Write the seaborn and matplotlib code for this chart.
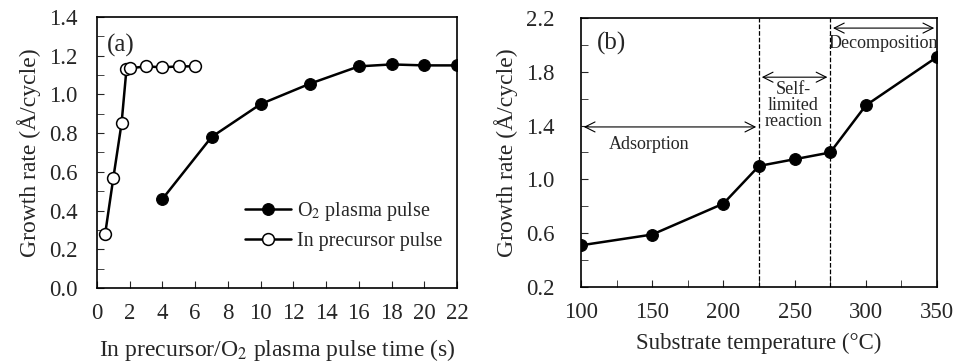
import numpy as np
import pandas as pd
import seaborn as sns
from matplotlib import pyplot as plt
from matplotlib.ticker import MultipleLocator, FixedLocator

sns.set_style('ticks')
plt.rcParams['font.family'] = ['Liberation Serif', 'DejaVu Serif']
plt.rcParams['mathtext.fontset'] = 'stix'

# panel (a)
precursor_time = [0.5, 1, 1.5, 1.8, 2, 3, 4, 5, 6]
precursor_rate = [0.28, 0.57, 0.85, 1.13, 1.135, 1.145, 1.14, 1.145, 1.145]
plasma_time = [4, 7, 10, 13, 16, 18, 20, 22]
plasma_rate = [0.46, 0.78, 0.95, 1.055, 1.145, 1.155, 1.15, 1.15]

# panel (b)
temperature = [100, 150, 200, 225, 250, 275, 300, 350]
temp_rate = [0.51, 0.59, 0.82, 1.10, 1.15, 1.20, 1.55, 1.91]
region_edges = [100, 225, 275, 350]

df_a1 = pd.DataFrame({'t': plasma_time, 'rate': plasma_rate})
df_a2 = pd.DataFrame({'t': precursor_time, 'rate': precursor_rate})
df_b = pd.DataFrame({'T': temperature, 'rate': temp_rate})

fig = plt.figure(figsize=(9.63, 3.61), dpi=100)
ax1 = fig.add_axes([97/963, 1 - 288/361, 360/963, 271/361])
ax2 = fig.add_axes([581/963, 1 - 287/361, 356/963, 269/361])

sns.lineplot(data=df_a1, x='t', y='rate', ax=ax1, color='black', lw=1.8,
             marker='o', markersize=8.5, markerfacecolor='black',
             markeredgecolor='black', label='O$_2$ plasma pulse')
sns.lineplot(data=df_a2, x='t', y='rate', ax=ax1, color='black', lw=1.8,
             marker='o', markersize=8.5, markerfacecolor='white',
             markeredgecolor='black', markeredgewidth=1.1,
             label='In precursor pulse')
ax1.set_xlim(0, 22)
ax1.set_ylim(0, 1.4)
ax1.xaxis.set_major_locator(MultipleLocator(2))
ax1.yaxis.set_major_locator(MultipleLocator(0.2))
ax1.yaxis.set_minor_locator(MultipleLocator(0.1))
ax1.yaxis.set_major_formatter(plt.FormatStrFormatter('%.1f'))
ax1.set_xlabel('In precursor/O$_2$ plasma pulse time (s)', fontsize=17, labelpad=9)
ax1.set_ylabel('Growth rate (Å/cycle)', fontsize=17, labelpad=6)
ax1.text(0.6, 1.22, '(a)', fontsize=18)
ax1.legend(loc='lower right', frameon=False, fontsize=14.5, handlelength=2.3,
           handletextpad=0.3, bbox_to_anchor=(1.01, 0.07), labelspacing=0.45)

sns.lineplot(data=df_b, x='T', y='rate', ax=ax2, color='black', lw=1.8,
             marker='o', markersize=8.5, markerfacecolor='black',
             markeredgecolor='black')
ax2.set_xlim(100, 350)
ax2.set_ylim(0.2, 2.2)
ax2.xaxis.set_major_locator(MultipleLocator(50))
ax2.xaxis.set_minor_locator(MultipleLocator(25))
ax2.yaxis.set_major_locator(FixedLocator(np.arange(0.2, 2.3, 0.4)))
ax2.yaxis.set_minor_locator(FixedLocator(np.arange(0.4, 2.2, 0.4)))
ax2.yaxis.set_major_formatter(plt.FormatStrFormatter('%.1f'))
ax2.set_xlabel('Substrate temperature (°C)', fontsize=16.5, labelpad=7)
ax2.set_ylabel('Growth rate (Å/cycle)', fontsize=17, labelpad=6)
ax2.text(111, 2.01, '(b)', fontsize=18, va='center')
for xv in region_edges[1:3]:
    ax2.axvline(xv, color='black', ls='--', lw=0.9)

arrow_kw = dict(arrowstyle='<->', color='black', lw=0.8, mutation_scale=18)
ax2.annotate('', xy=(region_edges[0], 1.39), xytext=(region_edges[1], 1.39), arrowprops=arrow_kw)
ax2.annotate('', xy=(region_edges[1], 1.76), xytext=(region_edges[2], 1.76), arrowprops=arrow_kw)
ax2.annotate('', xy=(region_edges[2], 2.125), xytext=(region_edges[3], 2.125), arrowprops=arrow_kw)
ax2.text(148, 1.26, 'Adsorption', fontsize=13, ha='center', va='center')
ax2.text(249, 1.55, 'Self-\nlimited\nreaction', fontsize=13, ha='center', va='center',
         linespacing=0.95)
ax2.text(312, 2.01, 'Decomposition', fontsize=13, ha='center', va='center')

for ax in (ax1, ax2):
    ax.tick_params(which='both', direction='in', labelsize=16.5, top=False, right=False)
    ax.tick_params(which='major', length=5)
    ax.tick_params(which='minor', length=5)
    ax.tick_params(axis='x', pad=11)
    for s in ax.spines.values():
        s.set_linewidth(1.2)
        s.set_color('black')
ax1.tick_params(axis='y', pad=14)
ax2.tick_params(axis='y', pad=19)

fig.savefig('out.png', dpi=100)
